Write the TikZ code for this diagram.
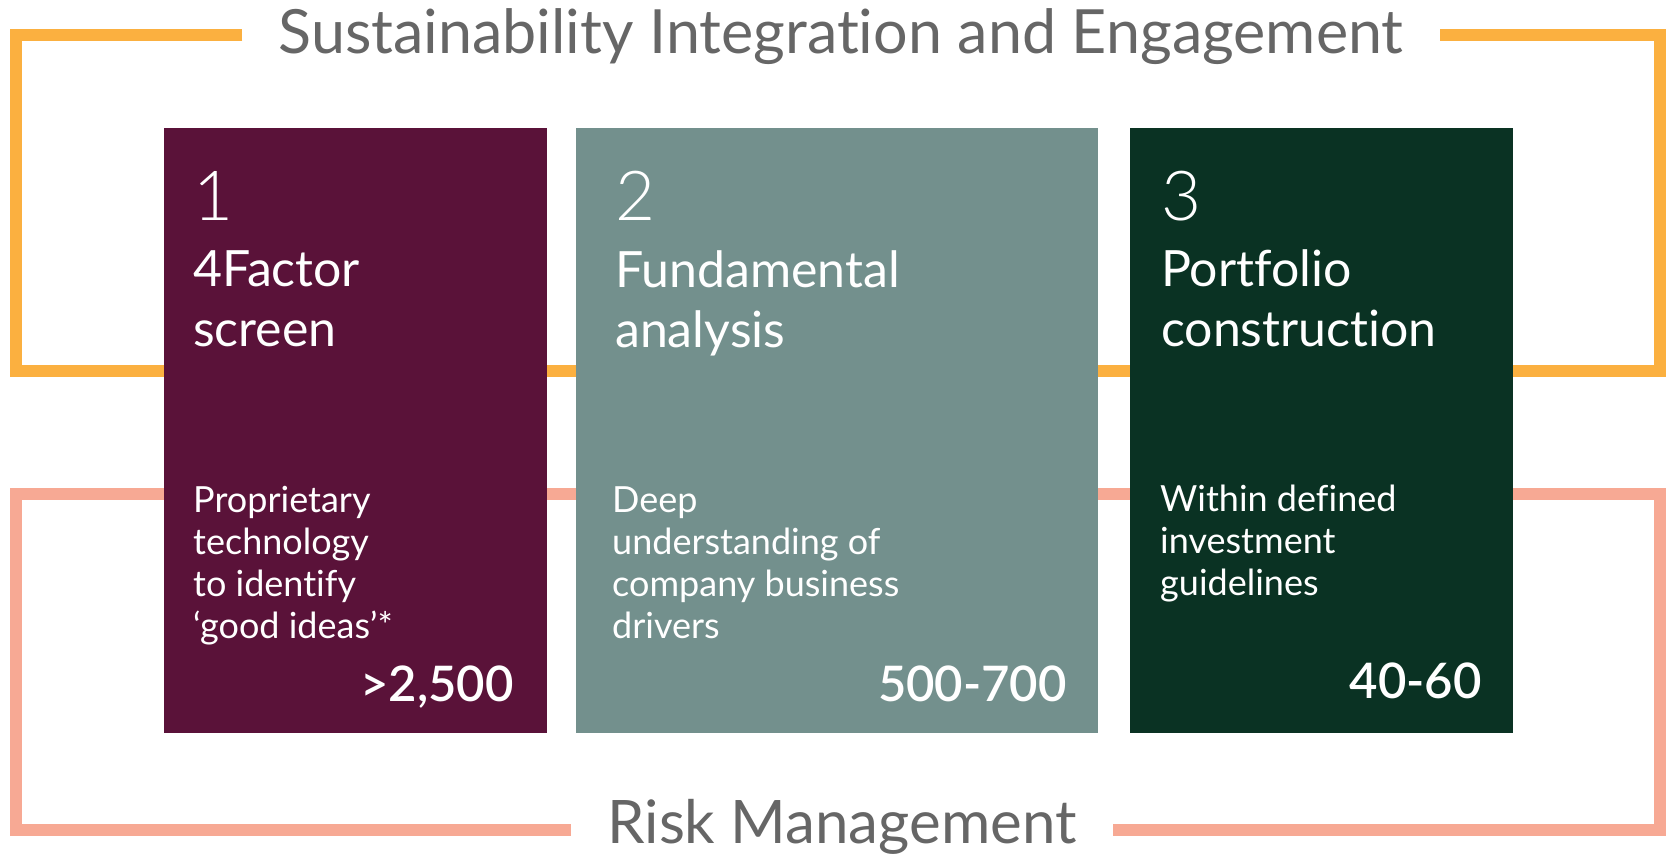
\documentclass[tikz,border=0pt]{standalone}
\usepackage{fontspec}
\setmainfont{Lato}[Ligatures = NoCommon]
\newfontfamily\numfont{Lato-Light.ttf}
\newfontfamily\countfont{Lato-Semibold.ttf}
\usetikzlibrary{positioning}

\definecolor{sieorange}{HTML}{FBB040}
\definecolor{riskpink}{HTML}{F7A994}
\definecolor{screenred}{HTML}{5A1239}
\definecolor{analysisgrey}{HTML}{73908D}
\definecolor{portfoliogreen}{HTML}{0A3223}
\definecolor{bandgrey}{HTML}{666666}

\tikzset{frame/.style = {line width = 12, line cap = butt, line join = miter},
         band/.style = {text = bandgrey, inner xsep = 36, inner ysep = 0,
                        font = \fontsize{#1}{#1}\selectfont},
         band/.default = 61,
         stage/.style = {fill = #1, inner sep = 0, anchor = north west,
                         minimum height = 605},
         stagenum/.style = {text = white, inner sep = 0, anchor = base west,
                            font = \numfont\fontsize{69}{69}\selectfont},
         stagehead/.style = {text = white, inner sep = 0, anchor = base west,
                             align = left, font = \fontsize{50}{60}\selectfont},
         stagetext/.style = {text = white, inner sep = 0, anchor = base west,
                             align = left, font = \fontsize{36}{42}\selectfont},
         stagecount/.style = {text = white, inner sep = 0, anchor = base east,
                              font = \countfont\fontsize{49}{49}\selectfont}
        }

\begin{document}
\begin{tikzpicture}[x = 1pt, y = -1pt]
  \useasboundingbox (0, 0) rectangle (1666, 854);

  % the two labels sit in gaps of their frames
  \node[band, anchor = base] (sie) at (841, 53) {Sustainability Integration and Engagement};
  \node[band = 60, anchor = base] (risk) at (842, 843) {Risk Management};

  % frames
  \coordinate (sietl) at (16, 35);
  \coordinate (siebr) at (1660, 371);
  \draw[frame, sieorange] (sie.west |- sietl) -- (sietl) |- (siebr)
                          -- (siebr |- sietl) -- (sie.east |- sietl);
  \coordinate (risktl) at (16, 494);
  \coordinate (riskbr) at (1660, 830);
  \draw[frame, riskpink] (risk.west |- riskbr) -| (risktl) -| (riskbr)
                         -- (risk.east |- riskbr);

  % the three stages (multi-line texts are placed by their last line)
  \node[stage = screenred, minimum width = 383] (screen) at (164, 128) {};
  \node[stage = analysisgrey, minimum width = 522] (analysis) at (576, 128) {};
  \node[stage = portfoliogreen, minimum width = 383] (portfolio) at (1130, 128) {};

  \node[stagenum] (screennum) at (193, 220) {1};
  \node[stagehead] (screenhead) at (193, 346) {4Factor\\screen};
  \node[stagetext] (screentext) at (193, 638) {Proprietary\\technology\\to identify\\‘good ideas’*};
  \node[stagecount] (screencount) at (514, 701) {>2,500};

  \node[stagenum] (analysisnum) at (615, 220) {2};
  \node[stagehead] (analysishead) at (615, 347) {Fundamental\\analysis};
  \node[stagetext] (analysistext) at (612, 638) {Deep\\understanding of\\company business\\drivers};
  \node[stagecount] (analysiscount) at (1067, 701) {500-700};

  \node[stagenum] (portfolionum) at (1161, 220) {3};
  \node[stagehead] (portfoliohead) at (1161, 346) {Portfolio\\construction};
  \node[stagetext] (portfoliotext) at (1160, 595) {Within defined\\investment\\guidelines};
  \node[stagecount] (portfoliocount) at (1482, 698) {40-60};
\end{tikzpicture}
\end{document}
